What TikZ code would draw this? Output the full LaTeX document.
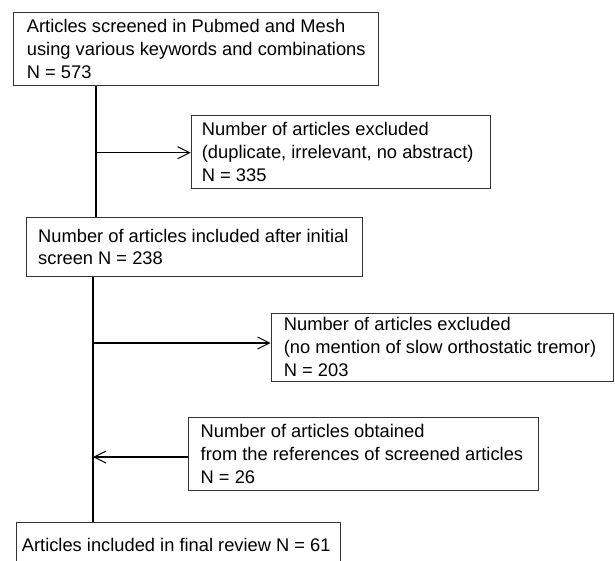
\documentclass[tikz,border=0pt]{standalone}
\usepackage{fontspec}
\setmainfont{Liberation Sans}
\usetikzlibrary{arrows.meta}
\begin{document}
\begin{tikzpicture}[x=1pt,y=-1pt,
  frame/.style={draw=black!80,line width=1pt,anchor=north west,inner sep=0pt},
  txt/.style={anchor=west,align=left,inner sep=0pt,
    font=\fontsize{18.3}{22.8}\selectfont},
  conn/.style={line width=1.3pt,black},
  arr/.style={conn,-{Straight Barb[length=12pt,width=12pt,line width=1pt]}}]
\useasboundingbox (0,0) rectangle (615,560);
\clip (0,0) rectangle (615,560);
% frames
\node[frame,minimum width=365pt,minimum height=73.3pt] (b1) at (12.7,11.7) {};
\node[frame,minimum width=299pt,minimum height=73pt] (b2) at (190.7,115) {};
\node[frame,minimum width=336pt,minimum height=59pt] (b3) at (26,217) {};
\node[frame,minimum width=342pt,minimum height=68pt] (b4) at (270.7,312.5) {};
\node[frame,minimum width=350pt,minimum height=73pt] (b5) at (188,417) {};
\node[frame,minimum width=324.3pt,minimum height=45pt] (b6) at (15.7,522) {};
% texts
\node[txt] (t1) at ([xshift=14pt]b1.west)
  {Articles screened in Pubmed and Mesh\\using various keywords and combinations\\N = 573};
\node[txt] (t2) at ([xshift=11pt]b2.west)
  {Number of articles excluded\\(duplicate, irrelevant, no abstract)\\N = 335};
\node[txt] (t3) at ([xshift=12pt]b3.west)
  {Number of articles included after initial\\screen N = 238};
\node[txt] (t4) at ([xshift=13pt]b4.west)
  {Number of articles excluded\\(no mention of slow orthostatic tremor)\\N = 203};
\node[txt] (t5) at ([xshift=12.5pt]b5.west)
  {Number of articles obtained\\from the references of screened articles\\N = 26};
\node[txt] (t6) at ([xshift=6pt]b6.west)
  {Articles included in final review N = 61};
% junctions
\coordinate (j1) at (96,152.7);
\coordinate (j2) at (93,343);
\coordinate (j3) at (93,457);
\draw[conn] (b1.south -| j1) -- (b3.north -| j1);
\draw[arr] (j1) -- (j1 -| b2.west);
\draw[conn] (b3.south -| j2) -- (b6.north -| j2);
\draw[arr] (j2) -- (j2 -| b4.west);
\draw[arr] (j3 -| b5.west) -- (j3);
\end{tikzpicture}
\end{document}
